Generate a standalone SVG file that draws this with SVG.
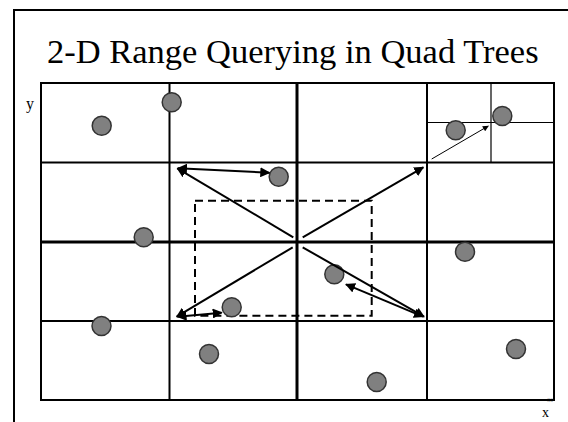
<svg xmlns="http://www.w3.org/2000/svg" width="568" height="422" viewBox="0 0 568 422">
<style>
.t{font-family:"Liberation Serif","Times New Roman",serif;fill:#000}
.g{stroke:#000;stroke-width:2;fill:none}
.gt{stroke:#000;stroke-width:3;fill:none}
.pt{fill:#808080;stroke:#333;stroke-width:1.5}
.a{stroke:#000;stroke-width:2;fill:none}
</style>
<defs>
<marker id="ah" viewBox="0 0 10 10" refX="9" refY="5" markerWidth="5" markerHeight="5" orient="auto-start-reverse" markerUnits="strokeWidth">
<path d="M0,0 L10,5 L0,10 Z" fill="#000"/>
</marker>
<marker id="ahs" viewBox="0 0 10 10" refX="9" refY="5" markerWidth="8" markerHeight="6" orient="auto" markerUnits="strokeWidth">
<path d="M0,0 L10,5 L0,10 Z" fill="#000"/>
</marker>
</defs>
<rect width="568" height="422" fill="#fff"/>
<g id="frame">
<path d="M14,422 V10 H568" stroke="#000" stroke-width="2" fill="none"/>
</g>
<text class="t" x="47" y="62.5" font-size="34.5">2-D Range Querying in Quad Trees</text>
<text class="t" x="26" y="109" font-size="16">y</text>
<text class="t" x="542" y="417" font-size="14">x</text>
<text class="t" x="547" y="402" font-size="6" style="fill:#888">36</text>
<g id="grid">
<rect class="g" x="41" y="83" width="513" height="317"/>
<line class="g" x1="169.5" y1="83" x2="169.5" y2="400"/>
<line class="g" x1="427" y1="83" x2="427" y2="400"/>
<line class="gt" x1="297" y1="83" x2="297" y2="400"/>
<line class="g" x1="41" y1="162.5" x2="554" y2="162.5"/>
<line class="gt" x1="41" y1="242" x2="554" y2="242"/>
<line class="g" x1="41" y1="321" x2="554" y2="321" stroke="#222"/>
<line x1="491" y1="83" x2="491" y2="162" stroke="#000" stroke-width="1.2"/>
<line x1="427" y1="122.5" x2="554" y2="122.5" stroke="#000" stroke-width="1.2"/>
</g>
<g id="query">
<rect x="195" y="200.7" width="176.7" height="115" fill="none" stroke="#000" stroke-width="2" stroke-dasharray="8,5"/>
</g>
<g id="points">
<circle class="pt" cx="101.7" cy="125.7" r="9.5"/>
<circle class="pt" cx="171.7" cy="102.3" r="9.5"/>
<circle class="pt" cx="455.7" cy="130.3" r="9.5"/>
<circle class="pt" cx="502.3" cy="116" r="9.5"/>
<circle class="pt" cx="278.7" cy="176.7" r="9.5"/>
<circle class="pt" cx="143.7" cy="237.3" r="9.5"/>
<circle class="pt" cx="334.3" cy="274.3" r="9.5"/>
<circle class="pt" cx="231.7" cy="307.3" r="9.5"/>
<circle class="pt" cx="465" cy="251.7" r="9.5"/>
<circle class="pt" cx="101.5" cy="326" r="9.5"/>
<circle class="pt" cx="516" cy="349" r="9.5"/>
<circle class="pt" cx="209" cy="354" r="9.5"/>
<circle class="pt" cx="376.7" cy="382" r="9.5"/>
</g>
<g id="connectors">
<line class="a" x1="293.3" y1="237.3" x2="177.3" y2="168.3" marker-end="url(#ah)"/>
<line class="a" x1="302.7" y1="237.3" x2="423.3" y2="167.3" marker-end="url(#ah)"/>
<line class="a" x1="292.7" y1="247.3" x2="176.7" y2="316.7" marker-end="url(#ah)"/>
<line class="a" x1="302.7" y1="247.3" x2="424" y2="316.7" marker-end="url(#ah)"/>
<line class="a" x1="178" y1="168.3" x2="269.3" y2="172.7" marker-start="url(#ah)" marker-end="url(#ah)"/>
<line class="a" x1="177.5" y1="316.7" x2="221.7" y2="312.7" marker-start="url(#ah)" marker-end="url(#ah)"/>
<line class="a" x1="346" y1="284.3" x2="423" y2="316.7" marker-start="url(#ah)" marker-end="url(#ah)"/>
<line x1="431.7" y1="159" x2="488.3" y2="126" stroke="#000" stroke-width="1" marker-end="url(#ahs)"/>
</g>
</svg>
